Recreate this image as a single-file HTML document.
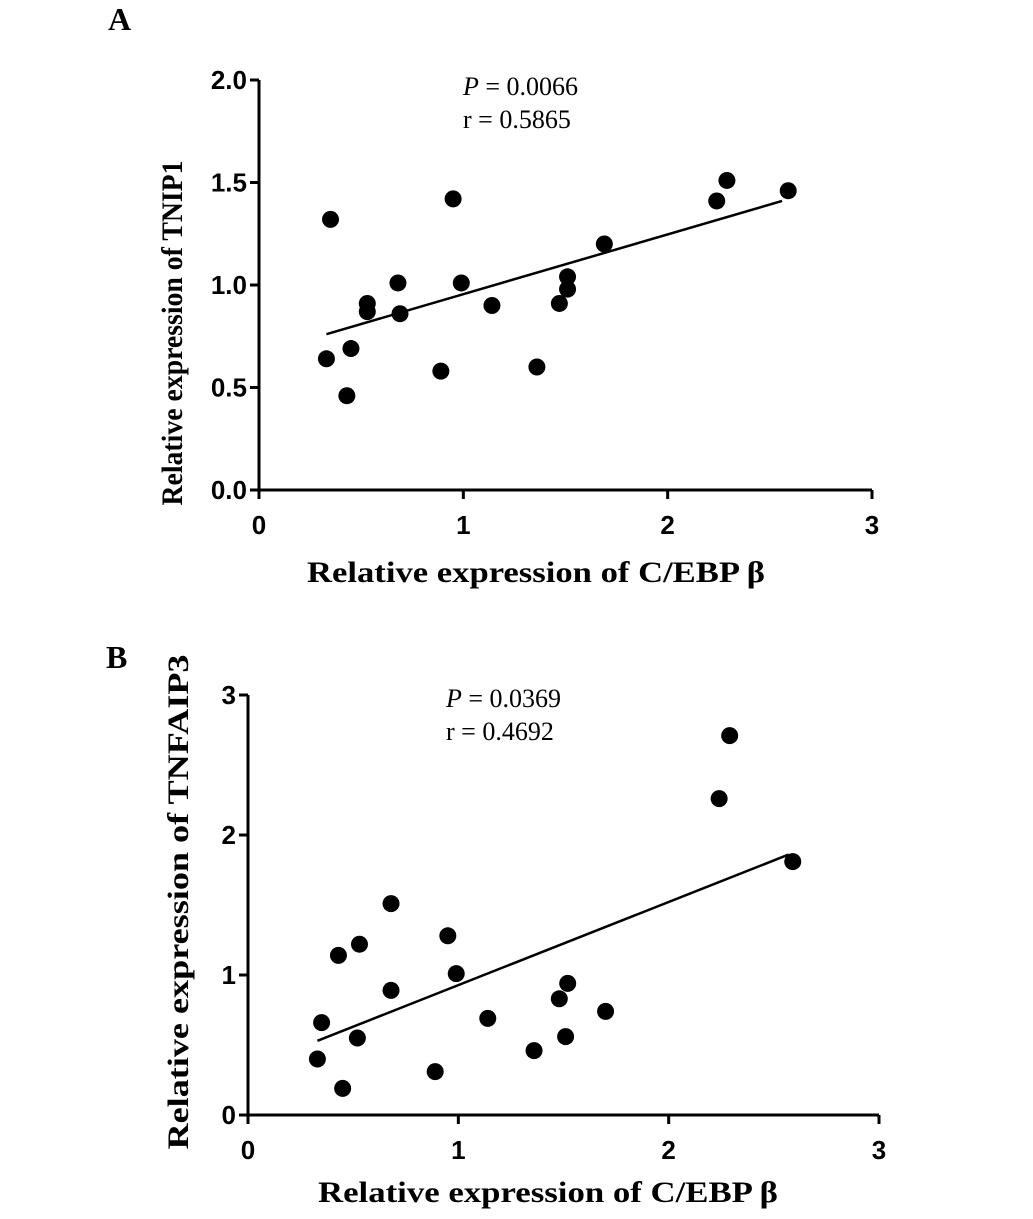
<!DOCTYPE html>
<html><head><meta charset="utf-8"><style>
html,body{margin:0;padding:0;background:#fff;}
svg{display:block;}
.tick{font-family:"Liberation Sans",sans-serif;font-weight:bold;font-size:26px;fill:#000;}
.title{font-family:"Liberation Serif",serif;font-weight:bold;font-size:30px;fill:#000;}
.stat{font-family:"Liberation Serif",serif;font-size:26px;fill:#000;}
.panel{font-family:"Liberation Serif",serif;font-weight:bold;font-size:32px;fill:#000;}
</style></head><body>
<svg id="chart" width="1033" height="1219" viewBox="0 0 1033 1219"></svg>
<script>
const xA=[0.35,0.33,0.45,0.43,0.53,0.53,0.68,0.69,0.89,0.95,0.99,1.14,1.36,1.47,1.51,1.51,1.69,2.24,2.29,2.59];
const yA=[1.32,0.64,0.69,0.46,0.91,0.87,1.01,0.86,0.58,1.42,1.01,0.90,0.60,0.91,1.04,0.98,1.20,1.41,1.51,1.46];
const fitA=[[0.33,0.76],[2.56,1.41]];
const yTicksA=["0.0","0.5","1.0","1.5","2.0"];
const xB=[0.35,0.33,0.43,0.45,0.53,0.52,0.68,0.68,0.89,0.95,0.99,1.14,1.36,1.48,1.52,1.51,1.70,2.24,2.29,2.59];
const yB=[0.66,0.40,1.14,0.19,1.22,0.55,1.51,0.89,0.31,1.28,1.01,0.69,0.46,0.83,0.94,0.56,0.74,2.26,2.71,1.81];
const fitB=[[0.33,0.53],[2.57,1.86]];
const yTicksB=["0","1","2","3"];
const xTicks=["0","1","2","3"];
const svg=document.getElementById('chart');
const NS='http://www.w3.org/2000/svg';
function el(t,a,txt){const e=document.createElementNS(NS,t);for(const k in a)e.setAttribute(k,a[k]);if(txt!==undefined)e.textContent=txt;svg.appendChild(e);return e;}
function panel(cfg){
  const sx=v=>cfg.x0+(v/3)*(cfg.x1-cfg.x0);
  const sy=v=>cfg.y0-(v/cfg.ymax)*(cfg.y0-cfg.y1);
  let e=el('line',{x1:cfg.x0,y1:cfg.y0,x2:cfg.x0,y2:cfg.y1,stroke:'#000','stroke-width':3});
  
  e=el('line',{x1:cfg.x0,y1:cfg.y0,x2:cfg.x1,y2:cfg.y0,stroke:'#000','stroke-width':3});
  
  cfg.yt.forEach((t,i)=>{const v=i*cfg.ymax/(cfg.yt.length-1);const y=sy(v);
    el('line',{x1:cfg.x0-9,y1:y,x2:cfg.x0,y2:y,stroke:'#000','stroke-width':3});
    const tx=el('text',{x:cfg.x0-12,y:y+9,'text-anchor':'end',class:'tick'},t);
    });
  xTicks.forEach((t,i)=>{const x=sx(i);
    el('line',{x1:x,y1:cfg.y0,x2:x,y2:cfg.y0+9,stroke:'#000','stroke-width':3});
    const tx=el('text',{x:x,y:cfg.y0+44,'text-anchor':'middle',class:'tick'},t);
    });
  cfg.xs.forEach((xv,i)=>{const c=el('circle',{cx:sx(xv),cy:sy(cfg.ys[i]),r:8.5,fill:'#000'});
    });
  e=el('line',{x1:sx(cfg.fit[0][0]),y1:sy(cfg.fit[0][1]),x2:sx(cfg.fit[1][0]),y2:sy(cfg.fit[1][1]),stroke:'#000','stroke-width':2.5});
  
  e=el('text',{x:cfg.xtx,y:cfg.xty,class:'title',textLength:cfg.xtl,lengthAdjust:'spacingAndGlyphs'},'Relative expression of C/EBP β');
  
  e=el('text',{x:0,y:0,transform:`translate(${cfg.ytx},${cfg.ytc}) rotate(-90)`,'text-anchor':'middle',class:'title',textLength:cfg.ytl,lengthAdjust:'spacingAndGlyphs'},cfg.ytitle);
  
  e=el('text',{x:cfg.sx,y:cfg.sy,class:'stat'});
  e.innerHTML='<tspan font-style="italic">P</tspan> = '+cfg.pv;
  
  e=el('text',{x:cfg.sx,y:cfg.sy+33,class:'stat'},'r  = '+cfg.r);
  
  e=el('text',{x:cfg.lx,y:cfg.ly,class:'panel'},cfg.label);
  
}
panel({p:'panel-a',x0:259,x1:872,y0:490,y1:80,ymax:2,yt:yTicksA,xs:xA,ys:yA,fit:fitA,ytitle:'Relative expression of TNIP1',ytx:182,ytc:333,ytl:345,xtx:307,xty:582,xtl:458,sx:463,sy:95,pv:'0.0066',r:'0.5865',label:'A',lx:108,ly:30});
panel({p:'panel-b',x0:248,x1:879,y0:1115,y1:695,ymax:3,yt:yTicksB,xs:xB,ys:yB,fit:fitB,ytitle:'Relative expression of TNFAIP3',ytx:188,ytc:902,ytl:495,xtx:318,xty:1202,xtl:460,sx:446,sy:707,pv:'0.0369',r:'0.4692',label:'B',lx:106,ly:668});
</script>
</body></html>
